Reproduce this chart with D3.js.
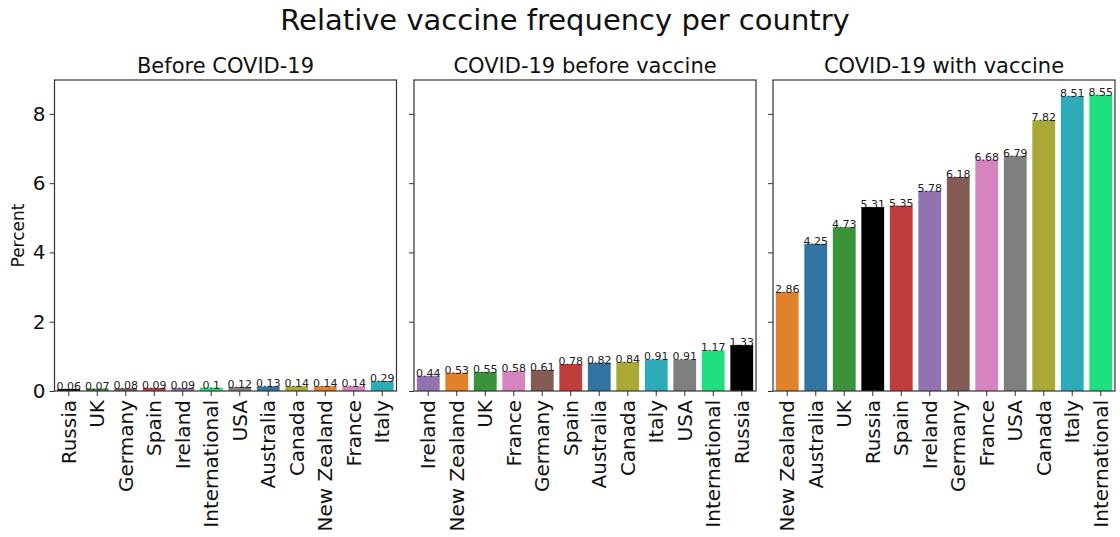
<!DOCTYPE html>
<html>
<head>
<meta charset="utf-8">
<script src="https://cdn.jsdelivr.net/npm/d3@7"></script>
<style>
  body { margin: 0; background: #fff; }
  svg { font-family: "DejaVu Sans", sans-serif; }
</style>
</head>
<body>
<div id="chart"></div>
<script>
var width = 1120,
    height = 537;

// data
var titles = ["Before COVID-19", "COVID-19 before vaccine", "COVID-19 with vaccine"];

var beforeCountries = ["Russia", "UK", "Germany", "Spain", "Ireland", "International", "USA", "Australia", "Canada", "New Zealand", "France", "Italy"];
var beforeValues = [0.06, 0.07, 0.08, 0.09, 0.09, 0.1, 0.12, 0.13, 0.14, 0.14, 0.14, 0.29];

var noVaxCountries = ["Ireland", "New Zealand", "UK", "France", "Germany", "Spain", "Australia", "Canada", "Italy", "USA", "International", "Russia"];
var noVaxValues = [0.44, 0.53, 0.55, 0.58, 0.61, 0.78, 0.82, 0.84, 0.91, 0.91, 1.17, 1.33];

var vaxCountries = ["New Zealand", "Australia", "UK", "Russia", "Spain", "Ireland", "Germany", "France", "USA", "Canada", "Italy", "International"];
var vaxValues = [2.86, 4.25, 4.73, 5.31, 5.35, 5.78, 6.18, 6.68, 6.79, 7.82, 8.51, 8.55];

var yTicks = [0, 2, 4, 6, 8];

// same colour per country in every panel
var countryColors = {
  "Russia": "#000000",
  "UK": "#3a923a",
  "Germany": "#845b53",
  "Spain": "#c03d3e",
  "Ireland": "#9372b2",
  "International": "#20df80",
  "USA": "#7f7f7f",
  "Australia": "#3274a1",
  "Canada": "#a9aa35",
  "New Zealand": "#e1812c",
  "France": "#d684bd",
  "Italy": "#2eabb8"
};

var panels = [
  { title: titles[0], countries: beforeCountries, values: beforeValues },
  { title: titles[1], countries: noVaxCountries, values: noVaxValues },
  { title: titles[2], countries: vaxCountries, values: vaxValues }
];

var svg = d3.select("#chart").append("svg")
    .attr("width", width)
    .attr("height", height);

svg.append("text")
    .attr("x", 565)
    .attr("y", 30)
    .style("text-anchor", "middle")
    .style("font-size", "29px")
    .style("fill", "#111")
    .text("Relative vaccine frequency per country");

var plotTop = 80, plotBottom = 391, panelW = 342;
var lefts = [54.5, 414, 773];

// shared y scale, matplotlib-style 5% margin over the max
var allMax = d3.max(vaxValues.concat(noVaxValues, beforeValues));
var y = d3.scaleLinear().domain([0, allMax * 1.05]).range([plotBottom, plotTop]);

panels.forEach(function (p, i) {
  var g = svg.append("g").attr("transform", "translate(" + lefts[i] + ",0)");

  var x = d3.scaleBand()
      .domain(p.countries)
      .range([0, panelW])
      .paddingInner(0.2)
      .paddingOuter(0.1);

  var rows = p.countries.map(function (c, k) { return { country: c, value: p.values[k] }; });

  g.selectAll("rect.bar")
    .data(rows)
    .enter()
    .append("rect")
      .attr("class", "bar")
      .attr("x", function (d) { return x(d.country); })
      .attr("width", x.bandwidth())
      .attr("y", function (d) { return y(d.value); })
      .attr("height", function (d) { return plotBottom - y(d.value); })
      .style("fill", function (d) { return countryColors[d.country]; });

  g.selectAll("text.val")
    .data(rows)
    .enter()
    .append("text")
      .attr("class", "val")
      .attr("x", function (d) { return x(d.country) + x.bandwidth() / 2; })
      .attr("y", function (d) { return y(d.value) + 1; })
      .style("text-anchor", "middle")
      .style("font-size", "11px")
      .style("fill", "#222")
      .text(function (d) { return String(d.value); });

  // y axis
  var yAxis = d3.axisLeft(y).tickValues(yTicks).tickSize(5).tickPadding(4);
  if (i > 0) yAxis.tickFormat("");
  var ya = g.append("g").call(yAxis);
  ya.select(".domain").remove();
  ya.selectAll("line").style("stroke", "#333");
  ya.selectAll("text").style("font-size", "20px").style("font-family", "DejaVu Sans, sans-serif").style("fill", "#111");

  // x axis, rotated labels
  var xa = g.append("g")
      .attr("transform", "translate(0," + plotBottom + ")")
      .call(d3.axisBottom(x).tickSize(5).tickPadding(4));
  xa.select(".domain").remove();
  xa.selectAll("line").style("stroke", "#333");
  xa.selectAll("text")
      .style("font-size", "20px")
      .style("font-family", "DejaVu Sans, sans-serif")
      .style("fill", "#111")
      .attr("transform", "rotate(-90)")
      .attr("x", -9)
      .attr("y", 0)
      .attr("dy", "0.35em")
      .style("text-anchor", "end");

  // frame
  g.append("rect")
      .attr("x", 0)
      .attr("y", plotTop)
      .attr("width", panelW)
      .attr("height", plotBottom - plotTop)
      .style("fill", "none")
      .style("stroke", "#333")
      .style("stroke-width", 1.2);

  g.append("text")
      .attr("x", panelW / 2)
      .attr("y", plotTop - 7)
      .style("text-anchor", "middle")
      .style("font-size", "21px")
      .style("fill", "#111")
      .text(p.title);
});

svg.append("text")
    .attr("transform", "translate(24," + (plotTop + plotBottom) / 2 + ") rotate(-90)")
    .style("text-anchor", "middle")
    .style("font-size", "17px")
    .style("fill", "#111")
    .text("Percent");
</script>
</body>
</html>
